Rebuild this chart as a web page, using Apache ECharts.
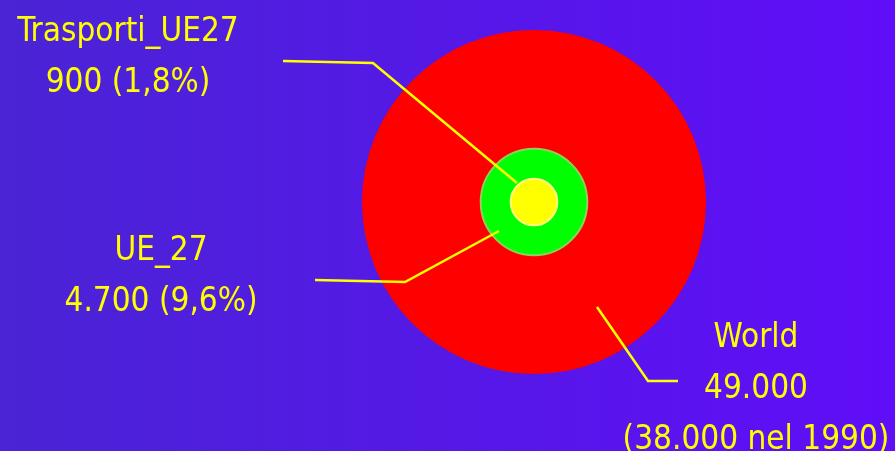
<!DOCTYPE html>
<html>
<head>
<meta charset="utf-8">
<script src="https://cdn.jsdelivr.net/npm/echarts@6/dist/echarts.min.js"></script>
<style>
  html, body { margin: 0; padding: 0; }
  #chart { width: 895px; height: 451px; }
</style>
</head>
<body>
<div id="chart"></div>
<script>
// dati (kt CO2 equivalenti)
var names = ['World', 'UE_27', 'Trasporti_UE27'];
var values = [49000, 4700, 900];
var colors = ['#ff0000', '#00ff00', '#ffff00'];
var borders = ['#ff0000', '#8fd05a', '#ffff80'];
var notes = ['(38.000 nel 1990)', '', ''];

var fmtInt = function (v) {
  return String(v).replace(/\B(?=(\d{3})+(?!\d))/g, '.');
};
var fmtPct = function (v) {
  return (v / values[0] * 100).toFixed(1).replace('.', ',') + '%';
};

// testo delle etichette
var labelText = names.map(function (n, i) {
  if (i === 0) return n + '\n' + fmtInt(values[i]) + '\n' + notes[i];
  return n + '\n' + fmtInt(values[i]) + ' (' + fmtPct(values[i]) + ')';
});

var chart = echarts.init(document.getElementById('chart'));

var series = names.map(function (n, i) {
  return {
    name: n,
    type: 'scatter',
    z: 2 + i,
    data: [[0, 0, values[i]]],
    symbol: 'circle',
    symbolSize: function (d) { return Math.sqrt(d[2]) * 1.554; },
    itemStyle: {
      color: colors[i],
      opacity: 1,
      borderColor: borders[i],
      borderWidth: i === 0 ? 0 : 2
    },
    emphasis: { disabled: true },
    silent: true
  };
});

var font = '"DejaVu Sans Condensed", "DejaVu Sans", sans-serif';
var textPos = [[756, 313], [161, 226], [128, 7]];
var leaders = [
  [[597, 307], [648, 381], [678, 381]],
  [[315, 280], [405, 282], [499, 231]],
  [[283, 61], [373, 63], [517, 183]]
];

var graphics = [];
names.forEach(function (n, i) {
  graphics.push({
    type: 'polyline',
    z: 10,
    shape: { points: leaders[i] },
    style: { stroke: '#ffff00', lineWidth: 2.5, fill: null }
  });
  graphics.push({
    type: 'text',
    z: 10,
    x: textPos[i][0],
    y: textPos[i][1],
    style: {
      text: labelText[i],
      fill: '#ffff00',
      font: '33px ' + font,
      lineHeight: 51,
      align: 'center',
      verticalAlign: 'top'
    }
  });
});

chart.setOption({
  backgroundColor: new echarts.graphic.LinearGradient(0, 0, 1, 0, [
    { offset: 0, color: '#4a24d5' },
    { offset: 1, color: '#600df8' }
  ]),
  animation: false,
  grid: { left: 0, right: 0, top: 0, bottom: 0 },
  xAxis: { type: 'value', min: -534, max: 361, show: false },
  yAxis: { type: 'value', min: -249, max: 202, show: false },
  series: series,
  graphic: graphics
});
</script>
</body>
</html>
